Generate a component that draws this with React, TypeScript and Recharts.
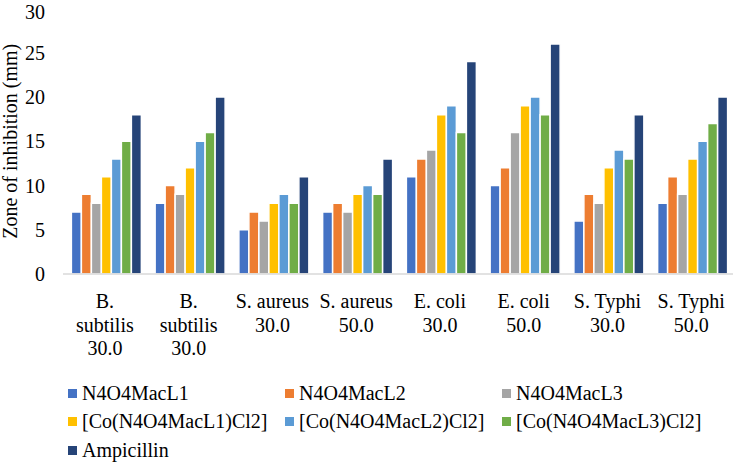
import { BarChart, Bar, XAxis, YAxis, Legend } from "recharts";

const categories = [
  "B. subtilis 30.0",
  "B. subtilis 30.0",
  "S. aureus 30.0",
  "S. aureus 50.0",
  "E. coli 30.0",
  "E. coli 50.0",
  "S. Typhi 30.0",
  "S. Typhi 50.0",
];
// how the category labels wrap under the axis
const tickLines = [
  ["B.", "subtilis", "30.0"],
  ["B.", "subtilis", "30.0"],
  ["S. aureus", "30.0"],
  ["S. aureus", "50.0"],
  ["E. coli", "30.0"],
  ["E. coli", "50.0"],
  ["S. Typhi", "30.0"],
  ["S. Typhi", "50.0"],
];

const seriesNames = [
  "N4O4MacL1",
  "N4O4MacL2",
  "N4O4MacL3",
  "[Co(N4O4MacL1)Cl2]",
  "[Co(N4O4MacL2)Cl2]",
  "[Co(N4O4MacL3)Cl2]",
  "Ampicillin",
];
const seriesColors = ["#4472C4", "#ED7D31", "#A5A5A5", "#FFC000", "#5B9BD5", "#70AD47", "#264478"];

const macL1 = [7, 8, 5, 7, 11, 10, 6, 8];
const macL2 = [9, 10, 7, 8, 13, 12, 9, 11];
const macL3 = [8, 9, 6, 7, 14, 16, 8, 9];
const coMacL1 = [11, 12, 8, 9, 18, 19, 12, 13];
const coMacL2 = [13, 15, 9, 10, 19, 20, 14, 15];
const coMacL3 = [15, 16, 8, 9, 16, 18, 13, 17];
const ampicillin = [18, 20, 11, 13, 24, 26, 18, 20];

const yTicks = [0, 5, 10, 15, 20, 25, 30];

const seriesValues = [macL1, macL2, macL3, coMacL1, coMacL2, coMacL3, ampicillin];

const data = categories.map((name, i) => {
  const row: any = { name };
  seriesValues.forEach((vals, s) => {
    row["s" + s] = vals[i];
  });
  return row;
});

const FONT = "'Liberation Serif', 'Times New Roman', serif";

function CategoryTick(props: any) {
  const { x, y, payload } = props;
  const lines = tickLines[payload.index] || [payload.value];
  return (
    <g>
      {lines.map((line, i) => (
        <text
          key={i}
          x={x}
          y={y + 27 + i * 23.5}
          textAnchor="middle"
          dominantBaseline="central"
          fontFamily={FONT}
          fontSize={20}
          fill="#000"
        >
          {line}
        </text>
      ))}
    </g>
  );
}

function YLabel(props: any) {
  const vb = props.viewBox || { y: 0, height: 0 };
  const cy = vb.y + vb.height / 2;
  return (
    <text
      x={10}
      y={cy}
      transform={`rotate(-90 10 ${cy})`}
      textAnchor="middle"
      dominantBaseline="central"
      fontFamily={FONT}
      fontSize={20}
      fill="#000"
    >
      Zone of inhibition (mm)
    </text>
  );
}

function LegendBox() {
  return (
    <div
      style={{
        display: "grid",
        gridTemplateColumns: "217px 217px 217px",
        rowGap: 0,
        fontFamily: FONT,
        fontSize: 20,
        color: "#000",
      }}
    >
      {seriesNames.map((n, i) => (
        <div key={n} style={{ display: "flex", alignItems: "center", height: 28.5, whiteSpace: "nowrap" }}>
          <span style={{ display: "inline-block", width: 9, height: 9, background: seriesColors[i], marginRight: 5 }} />
          <span>{n}</span>
        </div>
      ))}
    </div>
  );
}

export default function App() {
  return (
    <div style={{ position: "absolute", left: 0, top: 0 }}>
      <BarChart
        width={734}
        height={463}
        data={data}
        margin={{ top: 8.5, right: 1, left: 0, bottom: 89 }}
        barCategoryGap="10%"
        barGap={0}
      >
        <XAxis
          dataKey="name"
          height={100}
          tickSize={0}
          tickMargin={0}
          tickLine={false}
          axisLine={{ stroke: "#D9D9D9", strokeWidth: 1.5 }}
          tick={<CategoryTick />}
          interval={0}
        />
        <YAxis
          width={63}
          domain={[0, 30]}
          ticks={yTicks}
          tickSize={0}
          tickMargin={18}
          axisLine={false}
          tickLine={false}
          tick={{ fontFamily: FONT, fontSize: 20, fill: "#000" }}
          label={<YLabel />}
        />
        <Legend
          layout="horizontal"
          verticalAlign="middle"
          align="center"
          content={<LegendBox />}
          wrapperStyle={{ left: 68, top: 379, width: 660 }}
        />
        {seriesNames.map((n, s) => (
          <Bar
            key={n}
            dataKey={"s" + s}
            name={n}
            fill={seriesColors[s]}
            stroke="#fff"
            strokeWidth={1.5}
            isAnimationActive={false}
          />
        ))}
      </BarChart>
    </div>
  );
}
